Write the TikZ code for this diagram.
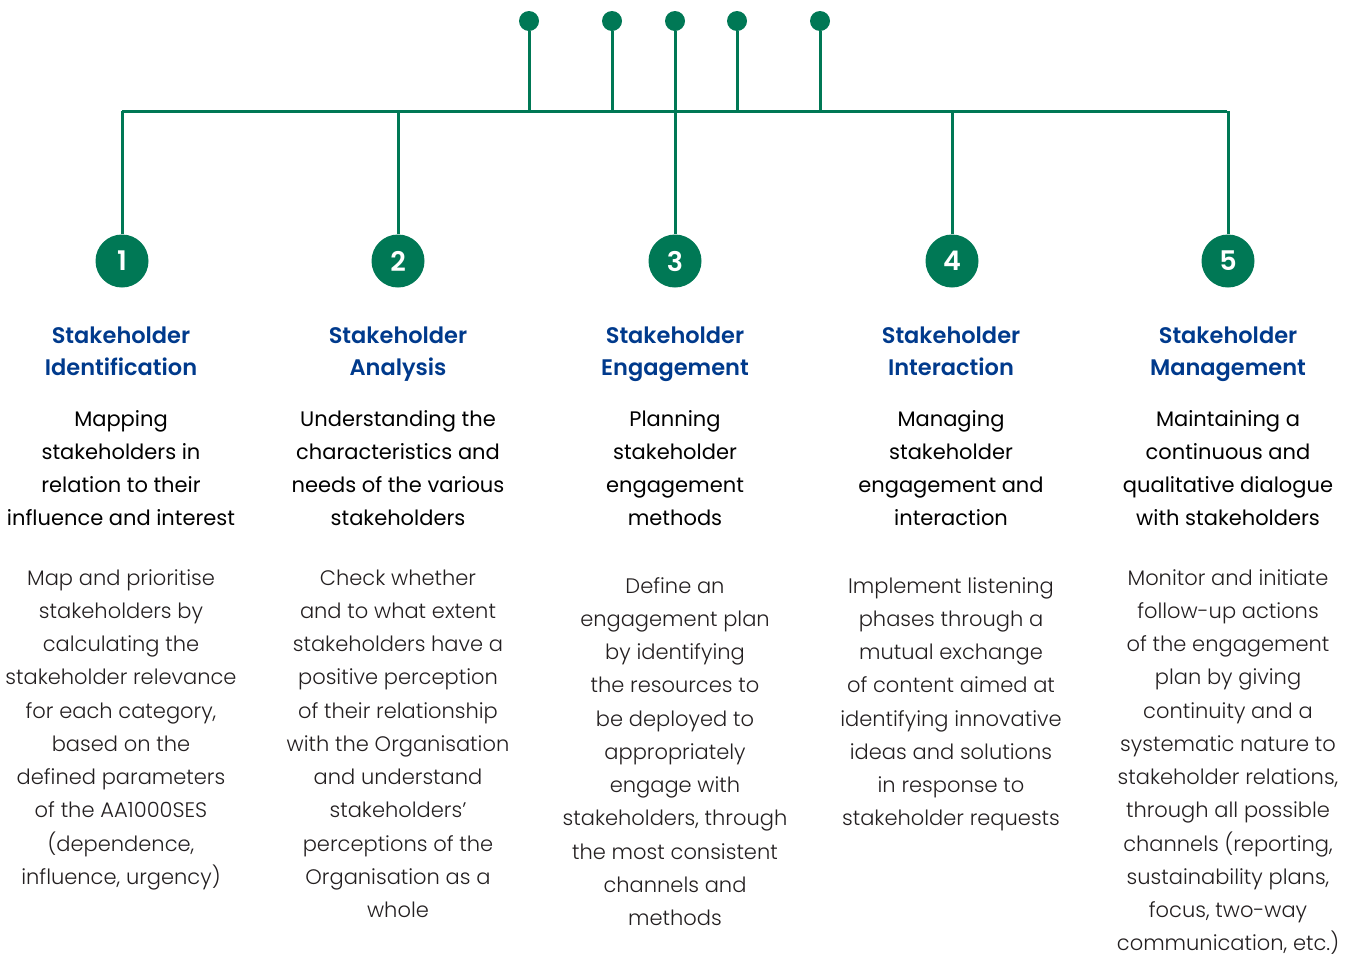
\documentclass[tikz,border=0pt]{standalone}
\usepackage{fontspec}
\setmainfont{Poppins}
\newfontfamily\lightfont{Poppins Light}
\newfontfamily\boldfont{Poppins SemiBold}
\definecolor{sgreen}{RGB}{0,120,85}
\definecolor{sblue}{RGB}{0,58,140}
\definecolor{bodygrey}{RGB}{35,31,32}
\begin{document}
\begin{tikzpicture}[x=1pt,y=-1pt,
  conn/.style={draw=sgreen, line width=3pt},
  dotnode/.style={circle, fill=sgreen, minimum size=20pt, inner sep=0pt},
  numnode/.style={circle, fill=sgreen, minimum size=53pt, inner sep=0pt, text=white, font=\boldfont\fontsize{27}{27}\selectfont},
  titlenode/.style={anchor=north, align=center, inner sep=0pt, text=sblue, font=\boldfont\fontsize{22.5}{32.5}\selectfont},
  subnode/.style={anchor=north, align=center, inner sep=0pt, text=black, font=\fontsize{21}{33.3}\selectfont},
  bodynode/.style={anchor=north, align=center, inner sep=0pt, text=bodygrey, font=\lightfont\fontsize{21}{33.25}\selectfont}]
\useasboundingbox (0,0) rectangle (1351,954);
% top dots
\node[dotnode] (d1) at (529,21) {};
\node[dotnode] (d2) at (612,21) {};
\node[dotnode] (d3) at (675,21) {};
\node[dotnode] (d4) at (737,21) {};
\node[dotnode] (d5) at (820,21) {};
% horizontal bar
\coordinate (hl) at (122,111);
\coordinate (hr) at (1227,111);
% numbered circles
\node[numnode] (c1) at (122,261) {1};
\node[numnode] (c2) at (398,261) {2};
\node[numnode] (c3) at (675,261) {3};
\node[numnode] (c4) at (952,261) {4};
\node[numnode] (c5) at (1228,261) {5};
% connectors
\draw[conn] (hl) -- (hr);
\draw[conn] (d1) -- (d1 |- hl);
\draw[conn] (d2) -- (d2 |- hl);
\draw[conn] (d4) -- (d4 |- hl);
\draw[conn] (d5) -- (d5 |- hl);
\draw[conn] (d3) -- (c3.north);
\draw[conn] (c1.north) -- (c1.north |- hl);
\draw[conn] (c2.north) -- (c2.north |- hl);
\draw[conn] (c4.north) -- (c4.north |- hl);
\draw[conn] (c5.north) -- (c5.north |- hl);
% titles
\node[titlenode] (t1) at (121,320.3) {\strut Stakeholder\\Identification};
\node[titlenode] (t2) at (398,320.3) {\strut Stakeholder\\Analysis};
\node[titlenode] (t3) at (675,320.3) {\strut Stakeholder\\Engagement};
\node[titlenode] (t4) at (951,320.3) {\strut Stakeholder\\Interaction};
\node[titlenode] (t5) at (1228,320.3) {\strut Stakeholder\\Management};
% subtitles
\node[subnode] (s1) at (121,402.5) {\strut Mapping\\stakeholders in\\relation to their\\influence and interest};
\node[subnode] (s2) at (398,402.5) {\strut Understanding the\\characteristics and\\needs of the various\\stakeholders};
\node[subnode] (s3) at (675,402.5) {\strut Planning\\stakeholder\\engagement\\methods};
\node[subnode] (s4) at (951,402.5) {\strut Managing\\stakeholder\\engagement and\\interaction};
\node[subnode] (s5) at (1228,402.5) {\strut Maintaining a\\continuous and\\qualitative dialogue\\with stakeholders};
% body
\node[bodynode] (b1) at (121,561.7) {\strut Map and prioritise\\stakeholders by\\calculating the\\stakeholder relevance\\for each category,\\based on the\\defined parameters\\of the AA1000SES\\(dependence,\\influence, urgency)};
\node[bodynode] (b2) at (398,561.7) {\strut Check whether\\and to what extent\\stakeholders have a\\positive perception\\of their relationship\\with the Organisation\\and understand\\stakeholders’\\perceptions of the\\Organisation as a\\whole};
\node[bodynode] (b3) at (675,569.7) {\strut Define an\\engagement plan\\by identifying\\the resources to\\be deployed to\\appropriately\\engage with\\stakeholders, through\\the most consistent\\channels and\\methods};
\node[bodynode] (b4) at (951,569.7) {\strut Implement listening\\phases through a\\mutual exchange\\of content aimed at\\identifying innovative\\ideas and solutions\\in response to\\stakeholder requests};
\node[bodynode] (b5) at (1228,561.7) {\strut Monitor and initiate\\follow-up actions\\of the engagement\\plan by giving\\continuity and a\\systematic nature to\\stakeholder relations,\\through all possible\\channels (reporting,\\sustainability plans,\\focus, two-way\\communication, etc.)};
\end{tikzpicture}
\end{document}
